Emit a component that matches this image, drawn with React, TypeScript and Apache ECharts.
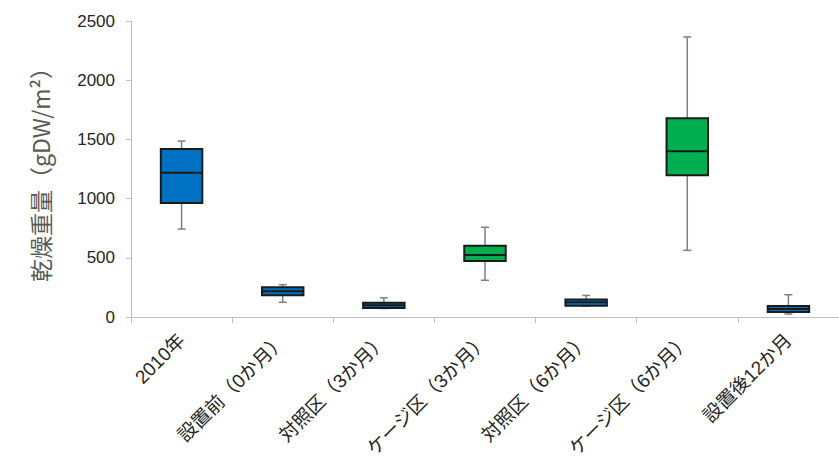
import React, { useEffect, useRef } from "react";
import * as echarts from "echarts";

const categories = [
  "2010年",
  "設置前（0か月）",
  "対照区（3か月）",
  "ケージ区（3か月）",
  "対照区（6か月）",
  "ケージ区（6か月）",
  "設置後12か月",
];
// [min, Q1, median, Q3, max]
const stats: number[][] = [
  [743, 963, 1219, 1419, 1486],
  [124, 183, 217, 251, 273],
  [72, 75, 99, 120, 162],
  [310, 473, 524, 602, 758],
  [92, 96, 124, 148, 182],
  [563, 1197, 1399, 1678, 2365],
  [25, 42, 68, 93, 188],
];
const boxColors = ["#0070C0", "#0070C0", "#0070C0", "#00B050", "#0070C0", "#00B050", "#0070C0"];
const yTicks = { min: 0, max: 2500, interval: 500 };
const yName = "乾燥重量（gDW/m²）";

export default function App() {
  const ref = useRef<HTMLDivElement>(null);
  useEffect(() => {
    if (!ref.current) return;
    const chart = echarts.init(ref.current, undefined, { renderer: "svg" });
    const data = stats.map((s, i) => [i, ...s]);
    chart.setOption({
      animation: false,
      backgroundColor: "#ffffff",
      grid: { left: 131, top: 21, width: 710, bottom: 150 },
      xAxis: {
        type: "category",
        data: categories,
        boundaryGap: true,
        axisLine: { lineStyle: { color: "#BFBFBF", width: 1 } },
        axisTick: { show: true, length: 6, lineStyle: { color: "#BFBFBF" } },
        axisLabel: {
          rotate: 45,
          interval: 0,
          fontSize: 19,
          color: "#262626",
          margin: 20,
          fontFamily: "Liberation Sans, Noto Sans CJK JP",
        },
      },
      yAxis: {
        type: "value",
        min: yTicks.min,
        max: yTicks.max,
        interval: yTicks.interval,
        name: yName,
        nameLocation: "middle",
        nameGap: 80,
        nameRotate: 90,
        nameTextStyle: {
          fontSize: 23,
          color: "#595959",
          fontFamily: "Noto Sans CJK JP",
        },
        splitLine: { show: false },
        axisLine: { show: true, lineStyle: { color: "#BFBFBF", width: 1 } },
        axisTick: { show: true, length: 5, inside: false, lineStyle: { color: "#BFBFBF" } },
        axisLabel: {
          fontSize: 17,
          color: "#262626",
          margin: 16,
          fontFamily: "Liberation Sans",
          formatter: (v: number) => String(v),
        },
      },
      series: [
        {
          type: "custom",
          data,
          encode: { x: 0, y: [1, 2, 3, 4, 5] },
          renderItem: (params: any, api: any) => {
            const idx = api.value(0);
            const mn = api.coord([idx, api.value(1)]);
            const q1 = api.coord([idx, api.value(2)]);
            const md = api.coord([idx, api.value(3)]);
            const q3 = api.coord([idx, api.value(4)]);
            const mx = api.coord([idx, api.value(5)]);
            const bandW = api.size([1, 0])[0];
            const bw = bandW * 0.41;
            const cx = mn[0];
            const cap = 4;
            const wStyle = { stroke: "#7F7F7F", lineWidth: 1.5 };
            return {
              type: "group",
              children: [
                { type: "line", shape: { x1: cx, y1: mx[1], x2: cx, y2: q3[1] }, style: wStyle },
                { type: "line", shape: { x1: cx, y1: q1[1], x2: cx, y2: mn[1] }, style: wStyle },
                { type: "line", shape: { x1: cx - cap, y1: mx[1], x2: cx + cap, y2: mx[1] }, style: wStyle },
                { type: "line", shape: { x1: cx - cap, y1: mn[1], x2: cx + cap, y2: mn[1] }, style: wStyle },
                {
                  type: "rect",
                  shape: { x: cx - bw / 2, y: q3[1], width: bw, height: q1[1] - q3[1] },
                  style: { fill: boxColors[idx], stroke: "#1a1a1a", lineWidth: 2 },
                },
                {
                  type: "line",
                  shape: { x1: cx - bw / 2, y1: md[1], x2: cx + bw / 2, y2: md[1] },
                  style: { stroke: "#1a1a1a", lineWidth: 2 },
                },
              ],
            };
          },
        },
      ],
    });
    return () => chart.dispose();
  }, []);
  return (
    <div
      ref={ref}
      style={{ position: "absolute", left: 0, top: 0, width: 839, height: 467 }}
    />
  );
}
